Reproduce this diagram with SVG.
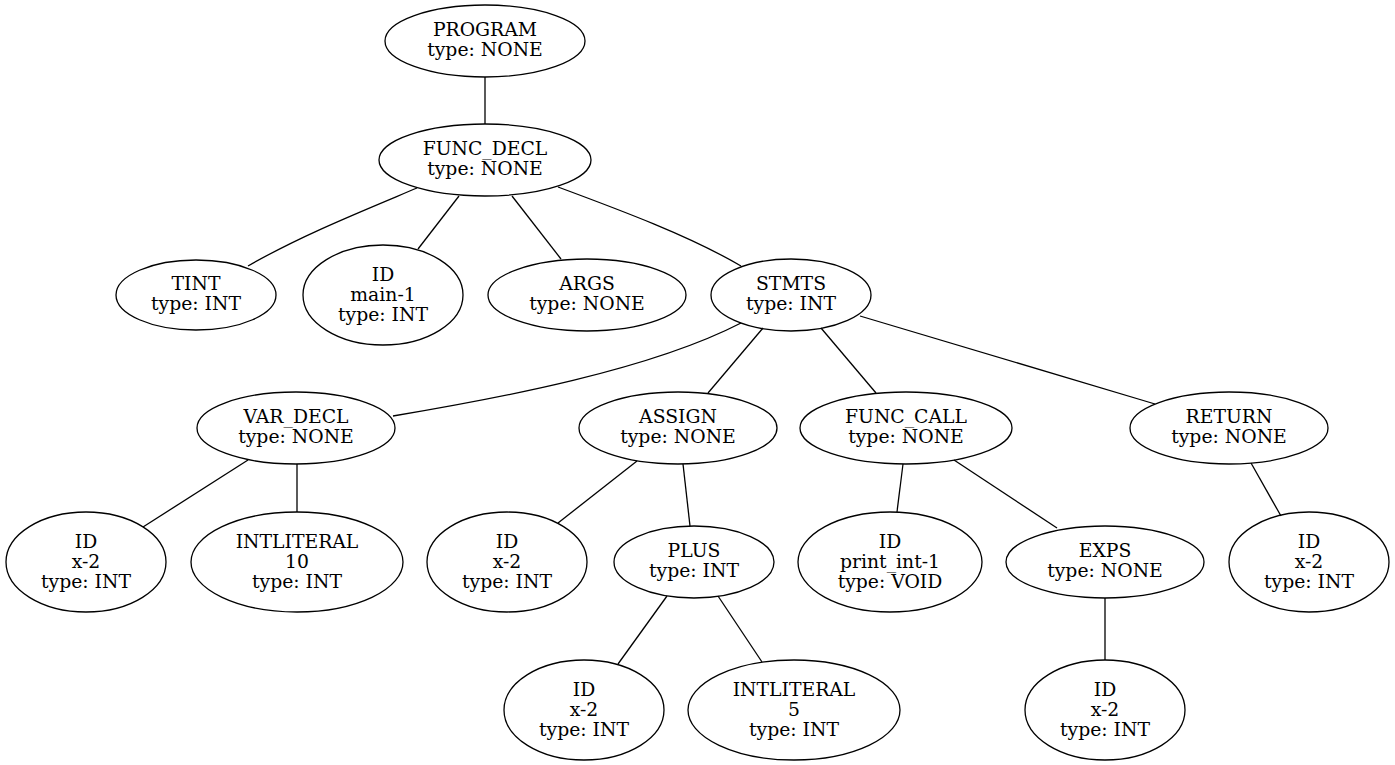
<svg xmlns="http://www.w3.org/2000/svg" width="1395" height="765" viewBox="0 0 1395 765">
<style>
  .node ellipse { fill: none; stroke: #000; stroke-width: 1.3; }
  .node text { font-family: "DejaVu Serif", "Liberation Serif", serif; font-size: 18.8px; text-anchor: middle; fill: #000; }
  #edges path { fill: none; stroke: #000; stroke-width: 1.3; }
</style>
<rect width="1395" height="765" fill="#fff"/>

<g id="edges">
  <path d="M485,77 L485,124"/>
  <path d="M417,188 C360,212 300,236 248,266"/>
  <path d="M459,196 L418,249"/>
  <path d="M512,196 L561,259"/>
  <path d="M558,187 C620,210 690,236 741,266"/>
  <path d="M741,323 C650,370 500,398 393,416"/>
  <path d="M763,328 L708,393"/>
  <path d="M821,328 L876,393"/>
  <path d="M860,316 L1155,404"/>
  <path d="M248,460 L143,527"/>
  <path d="M297,464 L297,512"/>
  <path d="M637,461 L558,523"/>
  <path d="M683,464 L690,526"/>
  <path d="M903,464 L897,512"/>
  <path d="M954,460 L1057,528"/>
  <path d="M1251,463 L1281,516"/>
  <path d="M667,596 L618,664"/>
  <path d="M718,596 L762,662"/>
  <path d="M1105,598 L1105,660"/>
</g>

<g id="program" class="node"><ellipse cx="485" cy="41" rx="100" ry="36"/><text x="485" y="36">PROGRAM</text><text x="485" y="56">type: NONE</text></g>
<g id="func_decl" class="node"><ellipse cx="485" cy="160" rx="106" ry="36"/><text x="485" y="155">FUNC_DECL</text><text x="485" y="175">type: NONE</text></g>
<g id="tint" class="node"><ellipse cx="196" cy="295" rx="80" ry="35"/><text x="196" y="290">TINT</text><text x="196" y="310">type: INT</text></g>
<g id="id_main" class="node"><ellipse cx="383" cy="295" rx="80" ry="50"/><text x="383" y="281">ID</text><text x="383" y="301">main-1</text><text x="383" y="321">type: INT</text></g>
<g id="args" class="node"><ellipse cx="587" cy="295" rx="99" ry="36"/><text x="587" y="290">ARGS</text><text x="587" y="310">type: NONE</text></g>
<g id="stmts" class="node"><ellipse cx="791" cy="295" rx="80" ry="36"/><text x="791" y="290">STMTS</text><text x="791" y="310">type: INT</text></g>
<g id="var_decl" class="node"><ellipse cx="296" cy="428" rx="99" ry="36"/><text x="296" y="423">VAR_DECL</text><text x="296" y="443">type: NONE</text></g>
<g id="assign" class="node"><ellipse cx="678" cy="428" rx="99" ry="36"/><text x="678" y="423">ASSIGN</text><text x="678" y="443">type: NONE</text></g>
<g id="func_call" class="node"><ellipse cx="906" cy="428" rx="106" ry="36"/><text x="906" y="423">FUNC_CALL</text><text x="906" y="443">type: NONE</text></g>
<g id="return" class="node"><ellipse cx="1229" cy="428" rx="99" ry="36"/><text x="1229" y="423">RETURN</text><text x="1229" y="443">type: NONE</text></g>
<g id="id_x_var" class="node"><ellipse cx="86" cy="562" rx="80" ry="50"/><text x="86" y="548">ID</text><text x="86" y="568">x-2</text><text x="86" y="588">type: INT</text></g>
<g id="intlit_10" class="node"><ellipse cx="297" cy="562" rx="106" ry="50"/><text x="297" y="548">INTLITERAL</text><text x="297" y="568">10</text><text x="297" y="588">type: INT</text></g>
<g id="id_x_assign" class="node"><ellipse cx="507" cy="562" rx="80" ry="50"/><text x="507" y="548">ID</text><text x="507" y="568">x-2</text><text x="507" y="588">type: INT</text></g>
<g id="plus" class="node"><ellipse cx="694" cy="562" rx="80" ry="36"/><text x="694" y="557">PLUS</text><text x="694" y="577">type: INT</text></g>
<g id="id_print" class="node"><ellipse cx="890" cy="562" rx="92" ry="50"/><text x="890" y="548">ID</text><text x="890" y="568">print_int-1</text><text x="890" y="588">type: VOID</text></g>
<g id="exps" class="node"><ellipse cx="1105" cy="562" rx="99" ry="36"/><text x="1105" y="557">EXPS</text><text x="1105" y="577">type: NONE</text></g>
<g id="id_x_return" class="node"><ellipse cx="1309" cy="562" rx="80" ry="50"/><text x="1309" y="548">ID</text><text x="1309" y="568">x-2</text><text x="1309" y="588">type: INT</text></g>
<g id="id_x_plus" class="node"><ellipse cx="584" cy="710" rx="80" ry="50"/><text x="584" y="696">ID</text><text x="584" y="716">x-2</text><text x="584" y="736">type: INT</text></g>
<g id="intlit_5" class="node"><ellipse cx="794" cy="710" rx="106" ry="50"/><text x="794" y="696">INTLITERAL</text><text x="794" y="716">5</text><text x="794" y="736">type: INT</text></g>
<g id="id_x_exps" class="node"><ellipse cx="1105" cy="710" rx="80" ry="50"/><text x="1105" y="696">ID</text><text x="1105" y="716">x-2</text><text x="1105" y="736">type: INT</text></g>
</svg>
